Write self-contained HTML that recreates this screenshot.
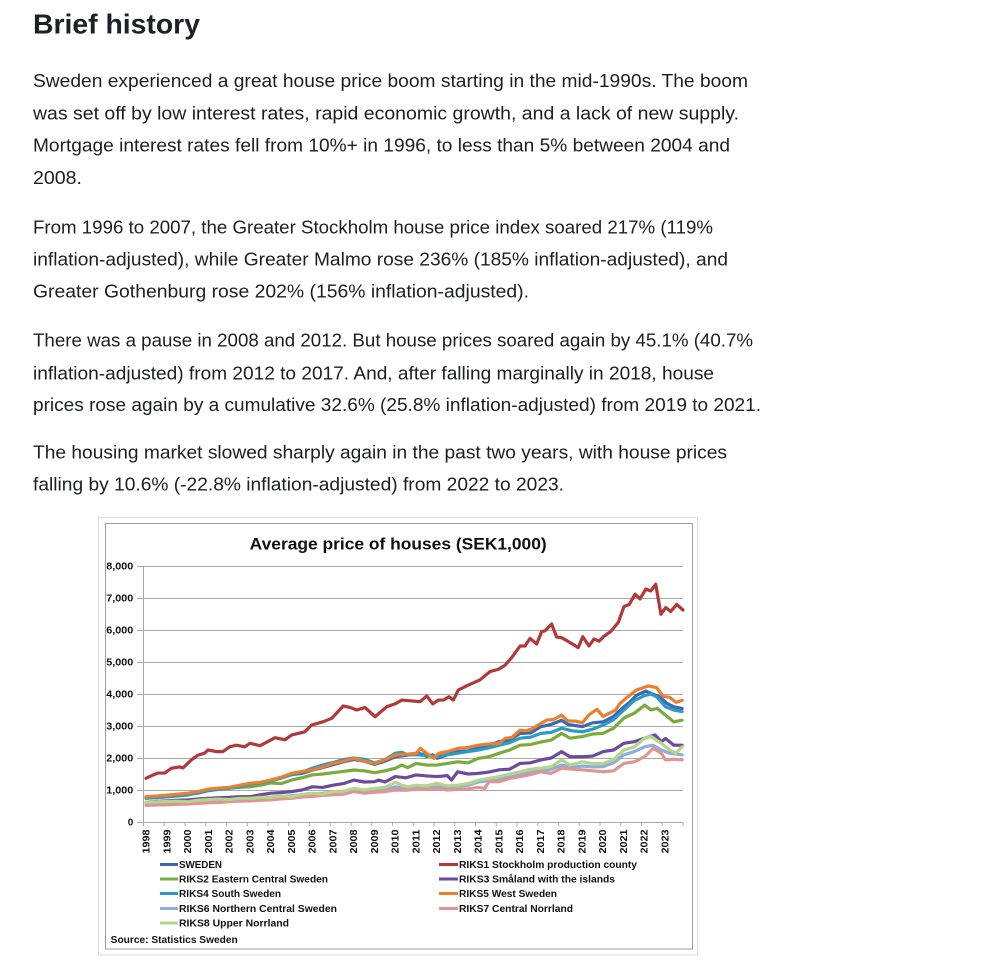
<!DOCTYPE html>
<html><head><meta charset="utf-8">
<style>
html,body{margin:0;padding:0;background:#fff;}
svg{display:block;}
.p{font-family:"Liberation Sans",Arial,sans-serif;font-size:18px;fill:#1c1e22;}
.c{font-family:"Liberation Sans",Arial,sans-serif;font-weight:bold;fill:#111;}
polyline.s{fill:none;stroke-width:3.2;stroke-linejoin:round;stroke-linecap:round;vector-effect:non-scaling-stroke;}
</style></head>
<body>
<svg width="1008" height="960" viewBox="0 0 1008 960" xmlns="http://www.w3.org/2000/svg">
<text x="33" y="33.5" font-family="Liberation Sans, Arial, sans-serif" font-weight="bold" font-size="28" fill="#1e2025" textLength="167" lengthAdjust="spacingAndGlyphs">Brief history</text>

<text class="p" x="33" y="87" textLength="715" lengthAdjust="spacingAndGlyphs">Sweden experienced a great house price boom starting in the mid-1990s. The boom</text>
<text class="p" x="33" y="119.3" textLength="706" lengthAdjust="spacingAndGlyphs">was set off by low interest rates, rapid economic growth, and a lack of new supply.</text>
<text class="p" x="33" y="151.7" textLength="697" lengthAdjust="spacingAndGlyphs">Mortgage interest rates fell from 10%+ in 1996, to less than 5% between 2004 and</text>
<text class="p" x="33" y="184" textLength="49" lengthAdjust="spacingAndGlyphs">2008.</text>

<text class="p" x="33" y="233.3" textLength="680" lengthAdjust="spacingAndGlyphs">From 1996 to 2007, the Greater Stockholm house price index soared 217% (119%</text>
<text class="p" x="33" y="265.3" textLength="695" lengthAdjust="spacingAndGlyphs">inflation-adjusted), while Greater Malmo rose 236% (185% inflation-adjusted), and</text>
<text class="p" x="33" y="297.5" textLength="496" lengthAdjust="spacingAndGlyphs">Greater Gothenburg rose 202% (156% inflation-adjusted).</text>

<text class="p" x="33" y="346.7" textLength="720" lengthAdjust="spacingAndGlyphs">There was a pause in 2008 and 2012. But house prices soared again by 45.1% (40.7%</text>
<text class="p" x="33" y="379.3" textLength="681" lengthAdjust="spacingAndGlyphs">inflation-adjusted) from 2012 to 2017. And, after falling marginally in 2018, house</text>
<text class="p" x="33" y="411" textLength="728" lengthAdjust="spacingAndGlyphs">prices rose again by a cumulative 32.6% (25.8% inflation-adjusted) from 2019 to 2021.</text>

<text class="p" x="33" y="458.5" textLength="694" lengthAdjust="spacingAndGlyphs">The housing market slowed sharply again in the past two years, with house prices</text>
<text class="p" x="33" y="490.5" textLength="531" lengthAdjust="spacingAndGlyphs">falling by 10.6% (-22.8% inflation-adjusted) from 2022 to 2023.</text>

<!-- chart frame -->
<rect x="98.5" y="517.5" width="599" height="437.5" fill="#fff" stroke="#dcdce6" stroke-width="1"/>
<rect x="105.5" y="523.5" width="587" height="425.5" fill="#fff" stroke="#9c9c9c" stroke-width="1"/>

<text class="c" x="249.7" y="549.3" font-size="17" textLength="297" lengthAdjust="spacingAndGlyphs">Average price of houses (SEK1,000)</text>

<!-- gridlines -->
<g stroke="#a8a8a8" stroke-width="1">
<line x1="137" y1="566.5" x2="683" y2="566.5"/>
<line x1="137" y1="598.5" x2="683" y2="598.5"/>
<line x1="137" y1="630.5" x2="683" y2="630.5"/>
<line x1="137" y1="662.5" x2="683" y2="662.5"/>
<line x1="137" y1="694.5" x2="683" y2="694.5"/>
<line x1="137" y1="726.5" x2="683" y2="726.5"/>
<line x1="137" y1="758.5" x2="683" y2="758.5"/>
<line x1="137" y1="790.5" x2="683" y2="790.5"/>
<line x1="137" y1="822.5" x2="683" y2="822.5"/>
<line x1="143.5" y1="566" x2="143.5" y2="823"/>
</g>
<g stroke="#a8a8a8" stroke-width="1">
<line x1="143.5" y1="822" x2="143.5" y2="826"/>
<line x1="164.25" y1="822" x2="164.25" y2="826"/>
<line x1="185" y1="822" x2="185" y2="826"/>
<line x1="205.75" y1="822" x2="205.75" y2="826"/>
<line x1="226.5" y1="822" x2="226.5" y2="826"/>
<line x1="247.25" y1="822" x2="247.25" y2="826"/>
<line x1="268" y1="822" x2="268" y2="826"/>
<line x1="288.75" y1="822" x2="288.75" y2="826"/>
<line x1="309.5" y1="822" x2="309.5" y2="826"/>
<line x1="330.25" y1="822" x2="330.25" y2="826"/>
<line x1="351" y1="822" x2="351" y2="826"/>
<line x1="371.75" y1="822" x2="371.75" y2="826"/>
<line x1="392.5" y1="822" x2="392.5" y2="826"/>
<line x1="413.25" y1="822" x2="413.25" y2="826"/>
<line x1="434" y1="822" x2="434" y2="826"/>
<line x1="454.75" y1="822" x2="454.75" y2="826"/>
<line x1="475.5" y1="822" x2="475.5" y2="826"/>
<line x1="496.25" y1="822" x2="496.25" y2="826"/>
<line x1="517" y1="822" x2="517" y2="826"/>
<line x1="537.75" y1="822" x2="537.75" y2="826"/>
<line x1="558.5" y1="822" x2="558.5" y2="826"/>
<line x1="579.25" y1="822" x2="579.25" y2="826"/>
<line x1="600" y1="822" x2="600" y2="826"/>
<line x1="620.75" y1="822" x2="620.75" y2="826"/>
<line x1="641.5" y1="822" x2="641.5" y2="826"/>
<line x1="662.25" y1="822" x2="662.25" y2="826"/>
<line x1="683" y1="822" x2="683" y2="826"/>
</g>

<!-- y labels -->
<g class="c" font-size="10" text-anchor="end">
<text x="133.3" y="569.5" textLength="27" lengthAdjust="spacingAndGlyphs">8,000</text>
<text x="133.3" y="601.5" textLength="27" lengthAdjust="spacingAndGlyphs">7,000</text>
<text x="133.3" y="633.5" textLength="27" lengthAdjust="spacingAndGlyphs">6,000</text>
<text x="133.3" y="665.5" textLength="27" lengthAdjust="spacingAndGlyphs">5,000</text>
<text x="133.3" y="697.5" textLength="27" lengthAdjust="spacingAndGlyphs">4,000</text>
<text x="133.3" y="729.5" textLength="27" lengthAdjust="spacingAndGlyphs">3,000</text>
<text x="133.3" y="761.5" textLength="27" lengthAdjust="spacingAndGlyphs">2,000</text>
<text x="133.3" y="793.5" textLength="27" lengthAdjust="spacingAndGlyphs">1,000</text>
<text x="133.3" y="825.5">0</text>
</g>

<!-- x labels -->
<g class="c" font-size="10">
<text transform="translate(146.1,853.5) rotate(-90)" dy="3.5" textLength="24" lengthAdjust="spacingAndGlyphs">1998</text>
<text transform="translate(166.85,853.5) rotate(-90)" dy="3.5" textLength="24" lengthAdjust="spacingAndGlyphs">1999</text>
<text transform="translate(187.6,853.5) rotate(-90)" dy="3.5" textLength="24" lengthAdjust="spacingAndGlyphs">2000</text>
<text transform="translate(208.35,853.5) rotate(-90)" dy="3.5" textLength="24" lengthAdjust="spacingAndGlyphs">2001</text>
<text transform="translate(229.1,853.5) rotate(-90)" dy="3.5" textLength="24" lengthAdjust="spacingAndGlyphs">2002</text>
<text transform="translate(249.85,853.5) rotate(-90)" dy="3.5" textLength="24" lengthAdjust="spacingAndGlyphs">2003</text>
<text transform="translate(270.6,853.5) rotate(-90)" dy="3.5" textLength="24" lengthAdjust="spacingAndGlyphs">2004</text>
<text transform="translate(291.35,853.5) rotate(-90)" dy="3.5" textLength="24" lengthAdjust="spacingAndGlyphs">2005</text>
<text transform="translate(312.1,853.5) rotate(-90)" dy="3.5" textLength="24" lengthAdjust="spacingAndGlyphs">2006</text>
<text transform="translate(332.85,853.5) rotate(-90)" dy="3.5" textLength="24" lengthAdjust="spacingAndGlyphs">2007</text>
<text transform="translate(353.6,853.5) rotate(-90)" dy="3.5" textLength="24" lengthAdjust="spacingAndGlyphs">2008</text>
<text transform="translate(374.35,853.5) rotate(-90)" dy="3.5" textLength="24" lengthAdjust="spacingAndGlyphs">2009</text>
<text transform="translate(395.1,853.5) rotate(-90)" dy="3.5" textLength="24" lengthAdjust="spacingAndGlyphs">2010</text>
<text transform="translate(415.85,853.5) rotate(-90)" dy="3.5" textLength="24" lengthAdjust="spacingAndGlyphs">2011</text>
<text transform="translate(436.6,853.5) rotate(-90)" dy="3.5" textLength="24" lengthAdjust="spacingAndGlyphs">2012</text>
<text transform="translate(457.35,853.5) rotate(-90)" dy="3.5" textLength="24" lengthAdjust="spacingAndGlyphs">2013</text>
<text transform="translate(478.1,853.5) rotate(-90)" dy="3.5" textLength="24" lengthAdjust="spacingAndGlyphs">2014</text>
<text transform="translate(498.85,853.5) rotate(-90)" dy="3.5" textLength="24" lengthAdjust="spacingAndGlyphs">2015</text>
<text transform="translate(519.6,853.5) rotate(-90)" dy="3.5" textLength="24" lengthAdjust="spacingAndGlyphs">2016</text>
<text transform="translate(540.35,853.5) rotate(-90)" dy="3.5" textLength="24" lengthAdjust="spacingAndGlyphs">2017</text>
<text transform="translate(561.1,853.5) rotate(-90)" dy="3.5" textLength="24" lengthAdjust="spacingAndGlyphs">2018</text>
<text transform="translate(581.85,853.5) rotate(-90)" dy="3.5" textLength="24" lengthAdjust="spacingAndGlyphs">2019</text>
<text transform="translate(602.6,853.5) rotate(-90)" dy="3.5" textLength="24" lengthAdjust="spacingAndGlyphs">2020</text>
<text transform="translate(623.35,853.5) rotate(-90)" dy="3.5" textLength="24" lengthAdjust="spacingAndGlyphs">2021</text>
<text transform="translate(644.1,853.5) rotate(-90)" dy="3.5" textLength="24" lengthAdjust="spacingAndGlyphs">2022</text>
<text transform="translate(664.85,853.5) rotate(-90)" dy="3.5" textLength="24" lengthAdjust="spacingAndGlyphs">2023</text>
</g>

<!-- series -->
<g transform="translate(146,822) scale(20.78,-0.032)">
<polyline class="s" stroke="#3a69b2" points="0,780 0.5,800 1,830 1.5,860 2,880 2.5,920 3,1000 3.5,1050 4,1060 4.5,1100 5,1180 5.5,1200 6,1300 6.5,1370 7,1480 7.5,1520 8,1620 8.5,1700 9,1790 9.5,1880 10,1950 10.5,1900 11,1800 11.5,1900 12,2040 12.5,2080 13,2150 13.3,2120 13.5,2050 13.8,2100 14,1990 14.5,2100 15,2200 15.5,2220 16,2350 16.5,2400 17,2510 17.5,2560 18,2770 18.5,2780 19,2980 19.5,3050 20,3180 20.3,3050 21,2980 21.5,3100 22,3130 22.5,3300 23,3600 23.3,3760 23.6,3960 24.05,4090 24.3,4020 24.7,3920 25.06,3710 25.4,3600 25.8,3550"/>
<polyline class="s" stroke="#b0393a" points="0,1365 0.34,1470 0.58,1530 0.9,1530 1.22,1680 1.62,1720 1.78,1690 2.18,1940 2.5,2090 2.82,2150 2.98,2250 3.38,2200 3.7,2200 4.03,2350 4.35,2400 4.75,2350 5.0,2460 5.49,2385 6.21,2635 6.69,2570 7.01,2720 7.65,2820 7.97,3030 8.53,3135 8.94,3240 9.49,3625 9.82,3580 10.14,3500 10.54,3580 11.02,3290 11.58,3600 11.98,3690 12.31,3810 13.19,3760 13.51,3940 13.8,3690 14.07,3810 14.31,3810 14.58,3915 14.79,3810 15.03,4125 15.51,4280 16.07,4440 16.55,4700 16.95,4770 17.28,4900 17.6,5140 18.0,5500 18.24,5500 18.48,5740 18.8,5560 19.04,5950 19.2,5970 19.52,6190 19.76,5780 20.0,5760 20.3,5650 20.8,5450 21.02,5790 21.32,5500 21.56,5720 21.8,5650 22.01,5790 22.36,5950 22.73,6240 23.0,6730 23.26,6800 23.53,7120 23.77,6970 24.05,7280 24.29,7220 24.53,7430 24.78,6490 25.01,6700 25.25,6580 25.54,6800 25.84,6625"/>
<polyline class="s" stroke="#7aab3c" points="0,750 0.5,760 1,790 1.5,810 2,840 2.5,920 3,1000 3.5,1040 4,1060 4.5,1080 5,1100 5.5,1150 6,1220 6.5,1200 7,1310 7.5,1380 8,1470 8.5,1500 9,1540 9.5,1580 10,1625 10.5,1600 11,1540 11.5,1600 12,1680 12.3,1780 12.6,1700 13,1830 13.5,1780 14,1780 14.5,1830 15,1880 15.5,1850 16,1990 16.5,2040 17,2150 17.5,2250 18,2400 18.5,2420 19,2500 19.5,2560 20,2770 20.4,2620 21,2670 21.5,2750 22,2770 22.5,2930 23,3250 23.5,3400 24,3650 24.3,3500 24.6,3550 25,3340 25.4,3130 25.8,3180"/>
<polyline class="s" stroke="#6b4b9c" points="0,620 0.5,640 1,660 1.5,680 2,690 2.5,720 3,740 3.5,760 4,770 4.5,790 5,790 5.5,850 6,900 6.5,920 7,950 7.5,1000 8,1100 8.5,1080 9,1150 9.5,1200 10,1310 10.5,1250 11,1260 11.2,1310 11.5,1250 12,1420 12.5,1380 13,1470 13.5,1440 14,1420 14.5,1450 14.7,1310 15,1570 15.5,1500 16,1520 16.5,1560 17,1630 17.5,1650 18,1830 18.5,1850 19,1940 19.5,2000 20,2200 20.4,2040 21,2040 21.5,2060 22,2200 22.5,2250 23,2460 23.5,2510 24,2620 24.5,2720 24.8,2510 25,2610 25.4,2400 25.8,2400"/>
<polyline class="s" stroke="#2c9ac2" points="0,740 0.5,760 1,790 1.5,820 2,860 2.5,900 3,980 3.5,1020 4,1050 4.5,1100 5,1180 5.5,1220 6,1280 6.5,1380 7,1480 7.5,1560 8,1680 8.5,1780 9,1860 9.5,1950 10,2000 10.5,1960 11,1850 11.5,1950 12,2150 12.3,2180 12.6,2100 13,2100 13.5,2080 14,2040 14.5,2100 15,2150 15.5,2200 16,2250 16.5,2320 17,2400 17.5,2480 18,2620 18.5,2650 19,2770 19.5,2800 20,2930 20.5,2850 21,2820 21.5,2900 22,3030 22.5,3200 23,3500 23.5,3800 24,3950 24.3,4000 24.6,3900 25,3600 25.4,3500 25.8,3450"/>
<polyline class="s" stroke="#ea7f2e" points="0,790 0.5,810 1,840 1.5,870 2,900 2.5,950 3,1030 3.5,1060 4,1080 4.5,1150 5,1210 5.5,1240 6,1310 6.5,1400 7,1520 7.5,1580 8,1625 8.5,1720 9,1830 9.5,1900 10,1990 10.5,1900 11,1830 11.5,1950 12,2090 12.5,2120 13,2145 13.2,2300 13.5,2150 13.85,1990 14.1,2150 14.5,2200 15,2300 15.5,2330 16,2400 16.5,2440 17,2460 17.3,2620 17.6,2640 18,2870 18.3,2850 18.6,2920 19,3080 19.3,3190 19.6,3200 20,3340 20.3,3160 20.7,3150 21,3100 21.3,3340 21.7,3520 22,3300 22.3,3400 22.6,3500 22.8,3700 23,3810 23.2,3920 23.6,4125 24.17,4250 24.57,4200 24.9,3920 25.2,3900 25.5,3740 25.8,3800"/>
<polyline class="s" stroke="#8eaddc" points="0,580 0.5,590 1,600 1.5,610 2,620 2.5,640 3,660 3.5,680 4,700 4.5,720 5,730 5.5,760 6,780 6.5,800 7,820 7.5,850 8,880 8.5,900 9,930 9.5,950 10,1000 10.5,960 11,980 11.5,1000 12,1100 12.5,1050 13,1080 13.5,1060 14,1100 14.5,1080 15,1120 15.5,1150 16,1250 16.5,1300 17,1350 17.5,1400 18,1470 18.5,1550 19,1600 19.5,1650 20,1780 20.5,1700 21,1750 21.5,1720 22,1730 22.5,1850 23,2100 23.5,2200 24,2350 24.4,2400 24.8,2250 25.2,2150 25.8,2100"/>
<polyline class="s" stroke="#de9594" points="0,520 0.5,530 1,540 1.5,550 2,560 2.5,580 3,600 3.5,610 4,635 4.5,650 5,660 5.5,680 6,690 6.5,720 7,740 7.5,780 8,800 8.5,830 9,850 9.5,870 10,950 10.5,900 11,930 11.5,950 12,1000 12.5,990 13,1020 13.5,1020 14,1050 14.5,1000 15,1020 15.5,1040 16,1080 16.3,1050 16.5,1260 17,1260 17.5,1360 18,1420 18.5,1480 19,1570 19.5,1520 20,1680 20.5,1650 21,1630 21.5,1600 22,1570 22.5,1600 23,1830 23.5,1880 24,2040 24.4,2300 24.8,2150 25,1940 25.4,1960 25.8,1940"/>
<polyline class="s" stroke="#b5d48c" points="0,620 0.5,630 1,640 1.5,650 2,635 2.5,680 3,700 3.5,720 4,700 4.5,740 5,740 5.5,770 6,770 6.5,820 7,790 7.5,860 8,900 8.5,870 9,950 9.5,960 10,1050 10.5,1000 11,1050 11.5,1080 12,1240 12.3,1150 12.6,1100 13,1150 13.5,1130 14,1210 14.5,1130 15,1150 15.5,1200 16,1310 16.5,1360 17,1420 17.5,1500 18,1570 18.5,1650 19,1680 19.5,1730 20,1940 20.4,1780 21,1880 21.5,1820 22,1830 22.5,1950 23,2250 23.5,2350 24,2620 24.3,2670 24.8,2460 25.2,2250 25.5,2150 25.8,2350"/>
</g>

<!-- legend -->
<g stroke-width="3">
<line x1="160" y1="864.5" x2="178" y2="864.5" stroke="#3a69b2"/>
<line x1="160" y1="879" x2="178" y2="879" stroke="#7aab3c"/>
<line x1="160" y1="893.5" x2="178" y2="893.5" stroke="#2c9ac2"/>
<line x1="160" y1="908.5" x2="178" y2="908.5" stroke="#8eaddc"/>
<line x1="160" y1="923" x2="178" y2="923" stroke="#b5d48c"/>
<line x1="439" y1="864.5" x2="458" y2="864.5" stroke="#b0393a"/>
<line x1="439" y1="879" x2="458" y2="879" stroke="#6b4b9c"/>
<line x1="439" y1="893.5" x2="458" y2="893.5" stroke="#ea7f2e"/>
<line x1="439" y1="908.5" x2="458" y2="908.5" stroke="#de9594"/>
</g>
<g class="c" font-size="10">
<text x="179" y="868.2" textLength="43" lengthAdjust="spacingAndGlyphs">SWEDEN</text>
<text x="179" y="882.7" textLength="149" lengthAdjust="spacingAndGlyphs">RIKS2 Eastern Central Sweden</text>
<text x="179" y="897.2" textLength="102" lengthAdjust="spacingAndGlyphs">RIKS4 South Sweden</text>
<text x="179" y="912.2" textLength="158" lengthAdjust="spacingAndGlyphs">RIKS6 Northern Central Sweden</text>
<text x="179" y="926.7" textLength="110" lengthAdjust="spacingAndGlyphs">RIKS8 Upper Norrland</text>
<text x="459" y="868.2" textLength="178" lengthAdjust="spacingAndGlyphs">RIKS1 Stockholm production county</text>
<text x="459" y="882.7" textLength="156" lengthAdjust="spacingAndGlyphs">RIKS3 Småland with the islands</text>
<text x="459" y="897.2" textLength="98" lengthAdjust="spacingAndGlyphs">RIKS5 West Sweden</text>
<text x="459" y="912.2" textLength="114" lengthAdjust="spacingAndGlyphs">RIKS7 Central Norrland</text>
<text x="110.7" y="943" textLength="127" lengthAdjust="spacingAndGlyphs">Source: Statistics Sweden</text>
</g>
</svg>
</body></html>
